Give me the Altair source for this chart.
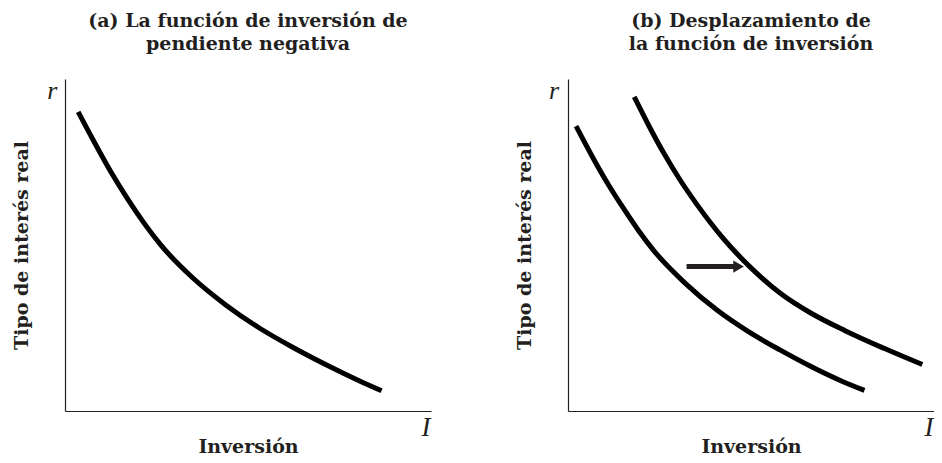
import altair as alt
import pandas as pd

# ---- data (abstract units 0-100 on both axes) ----
a_x = [3.6, 8.1, 12.6, 17.1, 21.6, 26.1, 35.1, 44.1, 53.1, 62.2, 71.2, 80.2, 86.5]
a_y = [90.1, 80.8, 71.9, 63.9, 56.6, 50.1, 39.9, 31.8, 25.0, 19.2, 14.0, 9.2, 6.1]

b1_x = [2.2, 6.5, 10.8, 15.0, 19.3, 23.6, 32.2, 40.7, 49.3, 57.9, 66.4, 75.0, 81.0]
b1_y = [85.8, 76.9, 68.6, 61.3, 54.3, 48.1, 38.3, 30.4, 23.9, 18.4, 13.4, 8.9, 6.2]

b2_x = [18.1, 22.2, 26.2, 30.5, 35.1, 42.4, 50.0, 58.1, 66.2, 75.7, 86.5, 96.8]
b2_y = [94.6, 85.7, 77.6, 69.8, 62.4, 52.0, 43.1, 35.4, 29.6, 24.2, 18.8, 14.0]

arrow_x = [32.4, 45.4]
arrow_y = [43.5, 43.5]
arrow_head = [46.6]

titles_a = ["(a) La función de inversión de", "pendiente negativa"]
titles_b = ["(b) Desplazamiento de", "la función de inversión"]
y_title = "Tipo de interés real"
x_title = "Inversión"
r_label = "r"
i_label = "I"

INK = "#231f20"
SERIF = "DejaVu Serif"
ITAL = "Liberation Serif"
FS = 19
W, H = 366, 332

xs = alt.Scale(domain=[0, 100], nice=False, zero=False)
ys = alt.Scale(domain=[0, 100], nice=False, zero=False)


def axis_x():
    return alt.Axis(title=x_title, ticks=False, labels=False, grid=False,
                    domainColor=INK, domainWidth=1.2, titleFont=SERIF,
                    titleFontSize=FS, titleFontWeight="bold", titleColor=INK,
                    titlePadding=26)


def axis_y():
    return alt.Axis(title=y_title, ticks=False, labels=False, grid=False,
                    domainColor=INK, domainWidth=1.2, titleFont=SERIF,
                    titleFontSize=FS, titleFontWeight="bold", titleColor=INK,
                    titlePadding=34)


def curves(df):
    return alt.Chart(df).mark_line(color="black", strokeWidth=5,
                                   interpolate="monotone", strokeCap="butt").encode(
        x=alt.X("x:Q", scale=xs, axis=axis_x()),
        y=alt.Y("y:Q", scale=ys, axis=axis_y()),
        detail="s:N",
        order="o:Q",
    )


def labels(rx):
    df_r = pd.DataFrame({"x": [rx], "y": [96.4], "t": [r_label]})
    df_i = pd.DataFrame({"x": [98.6], "y": [-5.1], "t": [i_label]})
    r = alt.Chart(df_r).mark_text(font=ITAL, fontStyle="italic", fontSize=26,
                                  color=INK, baseline="middle", align="center").encode(
        x=alt.X("x:Q", scale=xs), y=alt.Y("y:Q", scale=ys), text="t:N")
    i = alt.Chart(df_i).mark_text(font=ITAL, fontStyle="italic", fontSize=27,
                                  color=INK, baseline="middle", align="center").encode(
        x=alt.X("x:Q", scale=xs), y=alt.Y("y:Q", scale=ys), text="t:N")
    return r + i


def title(lines):
    return alt.TitleParams(text=lines, font=SERIF, fontSize=FS, fontWeight="bold",
                           color=INK, anchor="middle", lineHeight=23, offset=24)


df_a = pd.DataFrame({"x": a_x, "y": a_y, "s": "a", "o": range(len(a_x))})
panel_a = alt.layer(curves(df_a), labels(-3.5)).properties(
    width=W, height=H, title=title(titles_a))

df_b = pd.concat([
    pd.DataFrame({"x": b1_x, "y": b1_y, "s": "b1", "o": range(len(b1_x))}),
    pd.DataFrame({"x": b2_x, "y": b2_y, "s": "b2", "o": range(len(b2_x))}),
])
df_arrow = pd.DataFrame({"x": [arrow_x[0]], "x2": [arrow_x[1]], "y": [arrow_y[0]]})
df_head = pd.DataFrame({"x": arrow_head, "y": [arrow_y[0]]})
shaft = alt.Chart(df_arrow).mark_rule(color=INK, strokeWidth=5).encode(
    x=alt.X("x:Q", scale=xs), x2="x2:Q", y=alt.Y("y:Q", scale=ys))
head = alt.Chart(df_head).mark_point(shape="triangle-right", filled=True, color=INK,
                                     opacity=1, size=150).encode(
    x=alt.X("x:Q", scale=xs), y=alt.Y("y:Q", scale=ys))
panel_b = alt.layer(curves(df_b), shaft, head, labels(-3.8)).properties(
    width=W, height=H, title=title(titles_b))

chart = alt.hconcat(panel_a, panel_b, spacing=84).properties(
    padding={"left": 4, "top": 3, "right": 0, "bottom": 0}).configure(
    background="white").configure_view(stroke=None)

chart.save("out.html", embed_options={"renderer": "svg", "actions": False})
